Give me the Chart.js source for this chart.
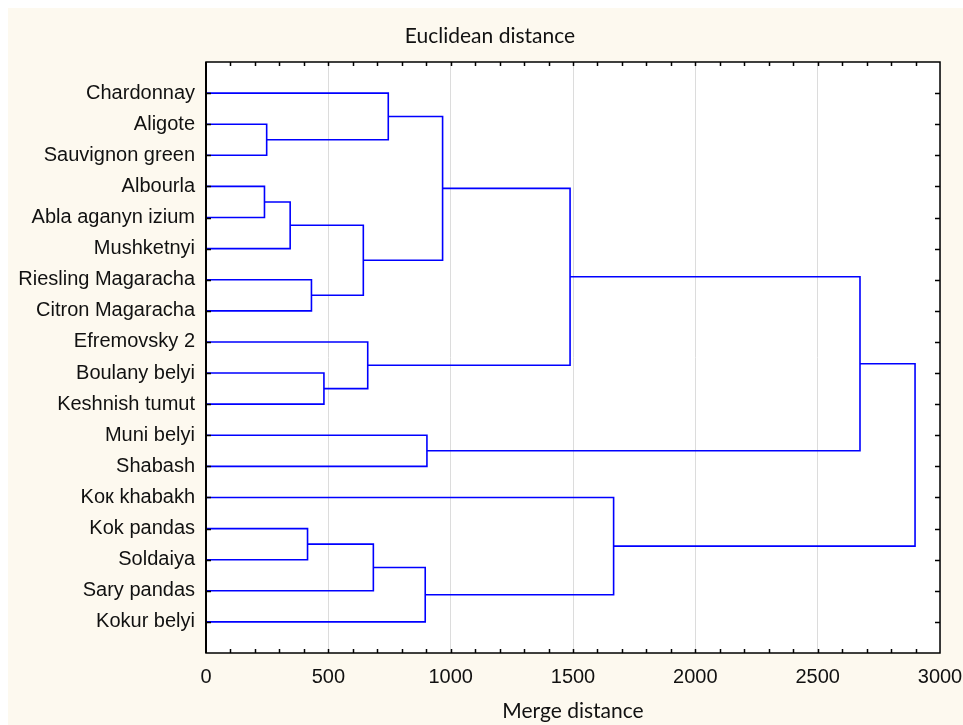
<!DOCTYPE html>
<html>
<head>
<meta charset="utf-8">
<title>Euclidean distance dendrogram</title>
<script src="https://cdn.jsdelivr.net/npm/chart.js@4/dist/chart.umd.min.js"></script>
<style>
  html, body { margin: 0; padding: 0; background: #fff; }
  #wrap { width: 963px; height: 725px; }
</style>
</head>
<body>
<div id="wrap"><canvas id="chart" width="963" height="725"></canvas></div>
<script>
// --- Data ---
// leaves from top to bottom
const leafLabels = [
  "Chardonnay", "Aligote", "Sauvignon green", "Albourla", "Abla aganyn izium",
  "Mushketnyi", "Riesling Magaracha", "Citron Magaracha", "Efremovsky 2",
  "Boulany belyi", "Keshnish tumut", "Muni belyi", "Shabash", "Koк khabakh",
  "Kok pandas", "Soldaiya", "Sary pandas", "Kokur belyi"
];
// merges, linkage style: node ids 18+ are the clusters made in this order
const mergeLeft   = [1, 0, 3, 20, 6, 21, 19, 9, 8, 24, 11, 27, 14, 30, 31, 13, 29];
const mergeRight  = [2, 18, 4, 5, 7, 22, 23, 10, 25, 26, 12, 28, 15, 16, 17, 32, 33];
const mergeHeight = [248, 745, 239, 344, 431, 643, 967, 482, 661, 1488, 903, 2673, 415, 684, 896, 1666, 2898];
const xTicks = [0, 500, 1000, 1500, 2000, 2500, 3000];

const LINE = "#0000ff";
const CREAM = "#fdf9ef";
const LABEL_FONT = "'Liberation Sans', Arial, sans-serif";

// position (y) and height (x) of every node
const nodeY = leafLabels.map((_, i) => i + 1);
const nodeX = leafLabels.map(() => 0);
mergeHeight.forEach((h, k) => {
  nodeY.push((nodeY[mergeLeft[k]] + nodeY[mergeRight[k]]) / 2);
  nodeX.push(h);
});

const datasets = mergeHeight.map((h, k) => {
  const a = mergeLeft[k], b = mergeRight[k];
  return {
    data: [
      { x: nodeX[a], y: nodeY[a] },
      { x: h, y: nodeY[a] },
      { x: h, y: nodeY[b] },
      { x: nodeX[b], y: nodeY[b] },
    ],
    borderColor: LINE,
    borderWidth: 1.6,
    pointRadius: 0,
    fill: false,
    tension: 0,
  };
});

// --- Plugins ---
const background = {
  id: "background",
  beforeDraw(chart) {
    const { ctx, chartArea: a } = chart;
    ctx.save();
    ctx.fillStyle = "#fff";
    ctx.fillRect(0, 0, chart.width, chart.height);
    ctx.fillStyle = CREAM;
    ctx.fillRect(8, 8, chart.width - 8, chart.height - 8);
    ctx.fillStyle = "#fff";
    ctx.fillRect(a.left, a.top, a.right - a.left, a.bottom - a.top);
    ctx.restore();
  },
};

const frame = {
  id: "frame",
  afterDraw(chart) {
    const { ctx, chartArea: a } = chart;
    const xs = chart.scales.x, ys = chart.scales.y;
    ctx.save();
    ctx.strokeStyle = "#000";
    ctx.lineWidth = 1.5;
    ctx.strokeRect(a.left, a.top, a.right - a.left, a.bottom - a.top);
    ctx.lineWidth = 2;
    ctx.beginPath();
    ctx.moveTo(a.left, a.top);
    ctx.lineTo(a.left, a.bottom);
    ctx.stroke();

    ctx.lineWidth = 1.5;
    ctx.beginPath();
    leafLabels.forEach((_, i) => {
      const py = Math.round(ys.getPixelForValue(i + 1)) + 0.5;
      ctx.moveTo(a.left, py);
      ctx.lineTo(a.left + 5, py);
      ctx.moveTo(a.right, py);
      ctx.lineTo(a.right - 5, py);
    });
    for (let v = 100; v < 3000; v += 100) {
      const px = Math.round(xs.getPixelForValue(v)) + 0.5;
      ctx.moveTo(px, a.bottom);
      ctx.lineTo(px, a.bottom - 4);
      ctx.moveTo(px, a.top);
      ctx.lineTo(px, a.top + 4);
    }
    ctx.stroke();

    // chart title
    ctx.fillStyle = "#111";
    ctx.font = "21px Lato";
    ctx.textAlign = "center";
    ctx.textBaseline = "middle";
    ctx.fillText("Euclidean distance", 490, 36);
    ctx.restore();
  },
};

// --- Chart ---
new Chart(document.getElementById("chart"), {
  type: "line",
  data: { datasets },
  plugins: [background, frame],
  options: {
    responsive: false,
    animation: false,
    events: [],
    layout: { padding: { left: 0, top: 62, right: 23, bottom: 0 } },
    plugins: {
      legend: { display: false },
      tooltip: { enabled: false },
    },
    scales: {
      x: {
        type: "linear",
        min: 0,
        max: 3000,
        afterBuildTicks: (s) => { s.ticks = xTicks.map((v) => ({ value: v })); },
        afterFit: (s) => { s.height = 72; s.paddingLeft = 0; s.paddingRight = 0; },
        border: { display: false },
        grid: { color: "#dcdcdc", lineWidth: 1, drawTicks: false },
        ticks: {
          color: "#111",
          padding: 12,
          font: { family: LABEL_FONT, size: 20 },
          callback: (v) => String(v),
        },
        title: {
          display: true,
          text: "Merge distance",
          color: "#111",
          font: { family: "Lato", size: 21 },
          padding: { top: 0, bottom: 1 },
        },
      },
      y: {
        type: "linear",
        min: 0,
        max: 19,
        reverse: true,
        afterBuildTicks: (s) => { s.ticks = leafLabels.map((_, i) => ({ value: i + 1 })); },
        afterFit: (s) => { s.width = 206; s.paddingTop = 0; s.paddingBottom = 0; },
        border: { display: false },
        grid: { display: false, drawTicks: false },
        ticks: {
          color: "#111",
          padding: 11,
          autoSkip: false,
          font: { family: LABEL_FONT, size: 20 },
          callback: (v) => leafLabels[v - 1] || "",
        },
      },
    },
  },
});
</script>
</body>
</html>
